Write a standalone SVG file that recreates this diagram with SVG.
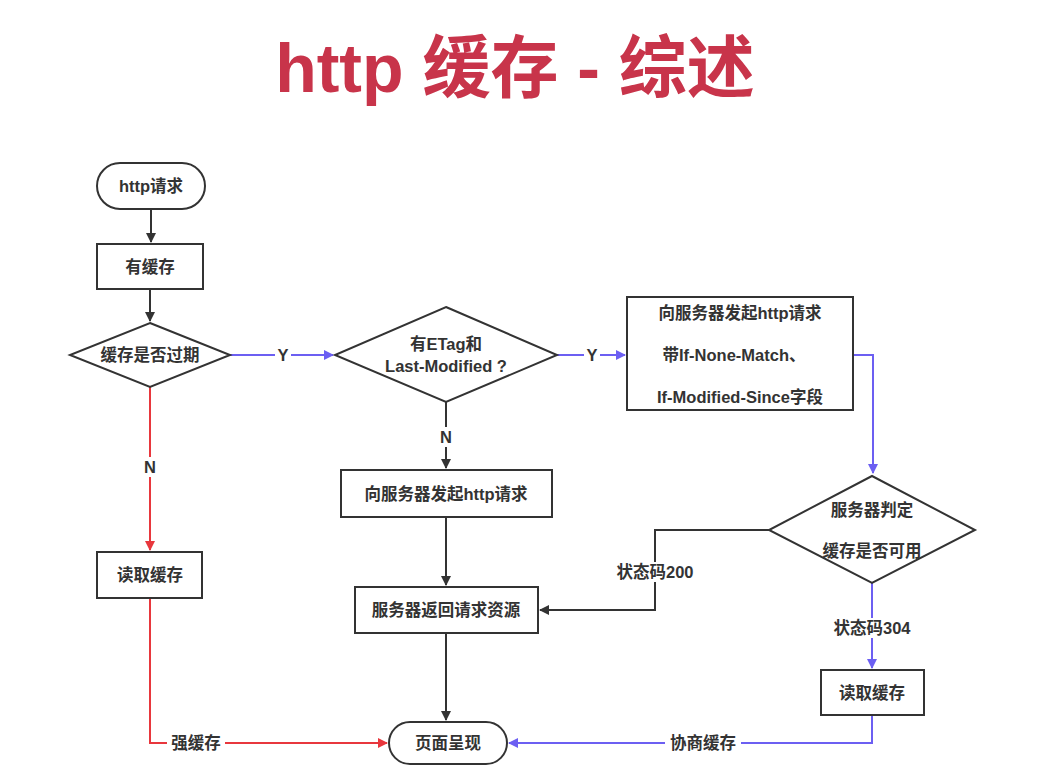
<svg xmlns="http://www.w3.org/2000/svg" width="1053" height="777" viewBox="0 0 1053 777">
<style>
.n{fill:#fff;stroke:#333;stroke-width:2}
.t{font-family:"Liberation Sans","Noto Sans CJK SC",sans-serif;font-size:16.5px;font-weight:bold;fill:#333;text-anchor:middle;dominant-baseline:central}
.k{fill:none;stroke:#333;stroke-width:2}
.b{fill:none;stroke:#6c5ff2;stroke-width:2}
.r{fill:none;stroke:#e8373d;stroke-width:2}
.lb{fill:#fff}
</style>
<defs>
<marker id="ak" viewBox="0 0 10 10" refX="9" refY="5" markerWidth="10" markerHeight="10" markerUnits="userSpaceOnUse" orient="auto"><path d="M0,0 L10,5 L0,10 z" fill="#333"/></marker>
<marker id="ab" viewBox="0 0 10 10" refX="9" refY="5" markerWidth="10" markerHeight="10" markerUnits="userSpaceOnUse" orient="auto"><path d="M0,0 L10,5 L0,10 z" fill="#6c5ff2"/></marker>
<marker id="ar" viewBox="0 0 10 10" refX="9" refY="5" markerWidth="10" markerHeight="10" markerUnits="userSpaceOnUse" orient="auto"><path d="M0,0 L10,5 L0,10 z" fill="#e8373d"/></marker>
</defs>
<rect width="1053" height="777" fill="#fff"/>
<text x="515" y="68" font-family="Liberation Sans,'Noto Sans CJK SC',sans-serif" font-size="68" font-weight="bold" fill="#c8344a" text-anchor="middle" dominant-baseline="central">http 缓存 - 综述</text>

<g id="connectors">
<path class="k" d="M151,209 V242" marker-end="url(#ak)"/>
<path class="k" d="M150,289 V321" marker-end="url(#ak)"/>
<path class="b" d="M230,355 H333" marker-end="url(#ab)"/>
<path class="b" d="M557,355 H625" marker-end="url(#ab)"/>
<path class="b" d="M853,355 H873 V473" marker-end="url(#ab)"/>
<path class="k" d="M769,530 H655 V610 H540" marker-end="url(#ak)"/>
<path class="b" d="M872,583 V668" marker-end="url(#ab)"/>
<path class="b" d="M872,715 V743 H509" marker-end="url(#ab)"/>
<path class="k" d="M446,402 V468" marker-end="url(#ak)"/>
<path class="k" d="M446,517 V585" marker-end="url(#ak)"/>
<path class="k" d="M446,633 V720" marker-end="url(#ak)"/>
<path class="r" d="M150,387 V550" marker-end="url(#ar)"/>
<path class="r" d="M150,598 V743 H387" marker-end="url(#ar)"/>
<rect class="lb" x="275" y="345" width="16" height="20"/>
<text class="t" x="283" y="355">Y</text>
<rect class="lb" x="584" y="345" width="16" height="20"/>
<text class="t" x="592" y="355">Y</text>
<rect class="lb" x="438" y="427" width="16" height="20"/>
<text class="t" x="446" y="437">N</text>
<rect class="lb" x="142" y="457" width="16" height="20"/>
<text class="t" x="150" y="467">N</text>
<rect class="lb" x="610" y="562" width="90" height="20"/>
<text class="t" x="655" y="572">状态码200</text>
<rect class="lb" x="827" y="618" width="90" height="20"/>
<text class="t" x="872" y="628">状态码304</text>
<rect class="lb" x="665" y="733" width="76" height="20"/>
<text class="t" x="703" y="743">协商缓存</text>
<rect class="lb" x="167" y="733" width="58" height="20"/>
<text class="t" x="196" y="743">强缓存</text>
</g>

<g id="start"><rect class="n" x="97" y="163" width="108" height="46" rx="23"/><text class="t" x="151" y="186">http请求</text></g>
<g id="hascache"><rect class="n" x="97" y="244" width="106" height="45"/><text class="t" x="150" y="267">有缓存</text></g>
<g id="expired"><polygon class="n" points="150,323 230,355 150,387 70,355"/><text class="t" x="150" y="355">缓存是否过期</text></g>
<g id="etag"><polygon class="n" points="446,307 557,355 446,402 335,355"/><text class="t" x="446" y="344">有ETag和</text><text class="t" x="446" y="366">Last-Modified ?</text></g>
<g id="condreq"><rect class="n" x="627" y="297" width="226" height="113"/><text class="t" x="740" y="313">向服务器发起http请求</text><text class="t" x="734" y="355">带If-None-Match、</text><text class="t" x="740" y="397">If-Modified-Since字段</text></g>
<g id="judge"><polygon class="n" points="872,476 975,530 872,583 769,530"/><text class="t" x="872" y="510">服务器判定</text><text class="t" x="872" y="551">缓存是否可用</text></g>
<g id="readcache2"><rect class="n" x="821" y="670" width="103" height="45"/><text class="t" x="872" y="693">读取缓存</text></g>
<g id="req"><rect class="n" x="341" y="470" width="211" height="47"/><text class="t" x="446" y="494">向服务器发起http请求</text></g>
<g id="resp"><rect class="n" x="355" y="587" width="183" height="46"/><text class="t" x="446" y="610">服务器返回请求资源</text></g>
<g id="readcache1"><rect class="n" x="97" y="552" width="105" height="46"/><text class="t" x="150" y="575">读取缓存</text></g>
<g id="page"><rect class="n" x="389" y="722" width="118" height="42" rx="21"/><text class="t" x="448" y="743">页面呈现</text></g>
</svg>
